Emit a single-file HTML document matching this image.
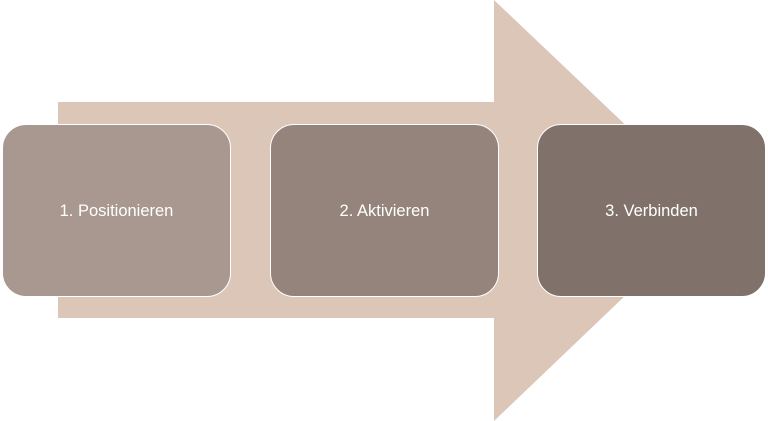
<!DOCTYPE html>
<html><head><meta charset="utf-8"><style>
html,body{margin:0;padding:0;background:#fff;}
body{width:768px;height:421px;position:relative;overflow:hidden;font-family:"Liberation Sans",sans-serif;}
.b{position:absolute;top:124px;width:229px;height:173px;border:1px solid #fff;border-radius:24px;box-sizing:border-box;color:#fff;font-size:16.5px;display:flex;align-items:center;justify-content:center;padding-top:2px;}
</style></head><body>
<svg width="768" height="421" style="position:absolute;left:0;top:0">
<polygon points="58,102 494,102 494,0 715,210 494,421 494,318 58,318" fill="#dbc6b8"/>
</svg>
<div class="b" style="left:2px;background:#a89890">1. Positionieren</div>
<div class="b" style="left:270px;background:#94847b">2. Aktivieren</div>
<div class="b" style="left:537px;background:#80726a">3. Verbinden</div>
</body></html>
